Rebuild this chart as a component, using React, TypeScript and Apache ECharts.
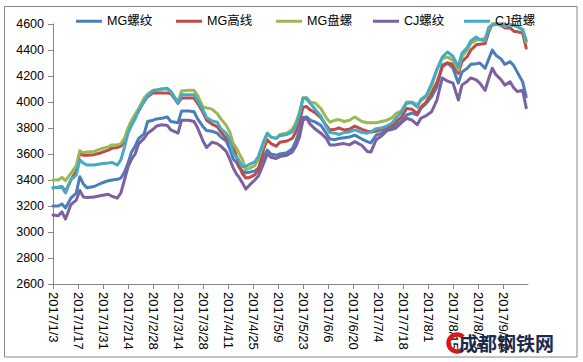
import React, { useEffect, useRef } from "react";
import * as echarts from "echarts";

const dates = [
  "2017/1/3","2017/1/6","2017/1/8","2017/1/10","2017/1/13","2017/1/16","2017/1/18","2017/1/20","2017/1/22","2017/1/26",
  "2017/1/30","2017/2/3","2017/2/5","2017/2/8","2017/2/10","2017/2/12","2017/2/14","2017/2/16","2017/2/18","2017/2/20",
  "2017/2/23","2017/2/25","2017/2/28","2017/3/2","2017/3/5","2017/3/8","2017/3/10","2017/3/14","2017/3/16","2017/3/20",
  "2017/3/23","2017/3/25","2017/3/28","2017/3/30","2017/4/2","2017/4/5","2017/4/7","2017/4/10","2017/4/12","2017/4/14",
  "2017/4/16","2017/4/17","2017/4/19","2017/4/21","2017/4/23","2017/4/26","2017/4/28","2017/5/1","2017/5/3","2017/5/5",
  "2017/5/8","2017/5/10","2017/5/14","2017/5/17","2017/5/19","2017/5/21","2017/5/23","2017/5/25","2017/5/27","2017/5/30",
  "2017/6/2","2017/6/5","2017/6/7","2017/6/10","2017/6/12","2017/6/15","2017/6/18","2017/6/21","2017/6/25","2017/6/28",
  "2017/6/30","2017/7/3","2017/7/6","2017/7/9","2017/7/12","2017/7/14","2017/7/17","2017/7/20","2017/7/23","2017/7/26",
  "2017/7/28","2017/7/31","2017/8/3","2017/8/6","2017/8/9","2017/8/12","2017/8/15","2017/8/18","2017/8/20","2017/8/23",
  "2017/8/25","2017/8/28","2017/8/30","2017/9/2","2017/9/4","2017/9/6","2017/9/8","2017/9/11","2017/9/13","2017/9/16",
  "2017/9/18","2017/9/20","2017/9/23","2017/9/25"
];

// MG螺纹
const mgRebar = [
  3200,3200,3215,3185,3260,3300,3425,3370,3340,3350,
  3375,3395,3400,3405,3415,3460,3530,3615,3660,3720,
  3755,3850,3860,3870,3875,3885,3850,3840,3930,3930,
  3925,3870,3810,3780,3775,3760,3730,3700,3640,3560,
  3530,3500,3470,3455,3460,3470,3490,3580,3630,3600,
  3590,3600,3610,3640,3700,3780,3880,3885,3860,3845,
  3820,3760,3715,3710,3720,3725,3730,3745,3715,3695,
  3685,3745,3760,3800,3810,3825,3850,3900,3915,3900,
  3950,3990,4040,4115,4285,4300,4260,4145,4230,4260,
  4290,4295,4300,4260,4330,4400,4360,4330,4290,4310,
  4280,4230,4155,4040
];
// MG高线
const mgWire = [
  3340,3345,3350,3310,3400,3470,3610,3590,3590,3595,
  3610,3630,3645,3650,3660,3700,3780,3850,3890,3930,
  4010,4040,4070,4070,4070,4070,4065,3990,4030,4030,
  4030,3990,3920,3860,3830,3810,3770,3720,3690,3650,
  3570,3515,3450,3415,3420,3440,3480,3640,3710,3680,
  3660,3690,3700,3720,3770,3850,3960,3965,3940,3915,
  3880,3820,3785,3790,3800,3785,3790,3815,3790,3775,
  3770,3775,3790,3810,3820,3850,3880,3950,3945,3910,
  3960,4000,4070,4150,4270,4300,4290,4220,4310,4350,
  4400,4440,4445,4450,4540,4600,4600,4590,4570,4570,
  4545,4540,4530,4415
];
// MG盘螺
const mgCoil = [
  3400,3400,3420,3395,3450,3510,3625,3610,3615,3620,
  3640,3655,3670,3670,3680,3720,3800,3860,3905,3950,
  4030,4060,4090,4095,4100,4100,4080,4000,4085,4090,
  4090,4050,3960,3955,3945,3910,3870,3820,3770,3680,
  3640,3610,3560,3480,3490,3510,3560,3680,3760,3730,
  3720,3750,3760,3790,3840,3920,4030,4035,4000,3990,
  3950,3880,3845,3860,3865,3850,3860,3885,3850,3840,
  3840,3840,3850,3860,3880,3910,3930,4000,4000,3980,
  4010,4040,4120,4250,4335,4345,4320,4245,4350,4400,
  4450,4475,4480,4490,4560,4600,4600,4600,4585,4595,
  4590,4580,4560,4460
];
// CJ螺纹
const cjRebar = [
  3130,3125,3155,3100,3210,3245,3320,3270,3265,3270,
  3280,3290,3275,3260,3300,3400,3500,3560,3600,3680,
  3720,3760,3790,3815,3825,3820,3785,3760,3860,3860,
  3850,3800,3700,3650,3690,3680,3660,3620,3560,3490,
  3440,3425,3380,3330,3360,3400,3430,3530,3600,3575,
  3565,3580,3590,3615,3660,3730,3860,3875,3830,3790,
  3760,3720,3670,3670,3675,3680,3670,3695,3665,3620,
  3615,3710,3740,3780,3790,3800,3840,3875,3860,3825,
  3875,3895,3925,4015,4185,4160,4145,4015,4130,4160,
  4185,4170,4145,4090,4180,4260,4210,4170,4130,4155,
  4110,4080,4090,3955
];
// CJ盘螺
const cjCoil = [
  3340,3345,3345,3300,3400,3440,3555,3530,3515,3515,
  3525,3530,3535,3515,3555,3650,3760,3820,3870,3940,
  4000,4050,4085,4090,4100,4105,4080,3990,4055,4055,
  4055,4010,3940,3880,3855,3845,3795,3760,3710,3600,
  3575,3555,3500,3505,3520,3540,3580,3700,3760,3730,
  3720,3740,3750,3770,3820,3900,4030,4025,3990,3940,
  3890,3810,3765,3760,3750,3765,3770,3785,3765,3760,
  3770,3795,3800,3815,3840,3875,3920,3990,3995,3960,
  4020,4050,4140,4250,4345,4385,4350,4270,4375,4420,
  4470,4500,4480,4470,4575,4590,4600,4600,4580,4595,
  4590,4580,4555,4475
];

const seriesNames = ["MG螺纹", "MG高线", "MG盘螺", "CJ螺纹", "CJ盘螺"];
const seriesValues = [mgRebar, mgWire, mgCoil, cjRebar, cjCoil];
const seriesColors = ["#4A7EBB", "#BE4B48", "#98B954", "#7D60A0", "#46AAC5"];
const legendLefts = [76, 176, 276, 373, 464];

const yMin = 2600;
const yMax = 4600;
const yStep = 200;
const xStepDays = 14;
const xMaxDays = 266;

const FONT = "'Liberation Sans', 'Noto Sans CJK SC', sans-serif";

function dayOffset(s: string): number {
  const [y, m, d] = s.split("/").map(Number);
  return Math.round((Date.UTC(y, m - 1, d) - Date.UTC(2017, 0, 3)) / 86400000);
}
function dayLabel(v: number): string {
  const dt = new Date(Date.UTC(2017, 0, 3 + Math.round(v)));
  return `${dt.getUTCFullYear()}/${dt.getUTCMonth() + 1}/${dt.getUTCDate()}`;
}

export default function App() {
  const ref = useRef<HTMLDivElement>(null);
  useEffect(() => {
    if (!ref.current) return;
    const chart = echarts.init(ref.current, undefined, { renderer: "svg" });
    const days = dates.map(dayOffset);
    chart.setOption({
      animation: false,
      backgroundColor: "#ffffff",
      grid: { left: 53, right: 55, top: 24, bottom: 78, containLabel: false },
      legend: seriesNames.map((n, i) => ({
        data: [n],
        left: legendLefts[i],
        top: 15,
        padding: 0,
        icon: "rect",
        itemWidth: 26,
        itemHeight: 3,
        itemGap: 0,
        textStyle: { fontSize: 12.5, color: "#000", fontFamily: FONT },
      })),
      xAxis: {
        type: "value",
        min: 0,
        max: xMaxDays,
        interval: xStepDays,
        splitLine: { show: false },
        axisLine: { show: true, lineStyle: { color: "#868686", width: 1 } },
        axisTick: { show: true, length: 5, lineStyle: { color: "#868686" } },
        axisLabel: {
          rotate: -90,
          margin: 8,
          fontSize: 13,
          color: "#000",
          fontFamily: FONT,
          showMaxLabel: false,
          formatter: (v: number) => dayLabel(v),
        },
      },
      yAxis: {
        type: "value",
        min: yMin,
        max: yMax,
        interval: yStep,
        splitLine: { show: false },
        axisLine: { show: true, lineStyle: { color: "#868686", width: 1 } },
        axisTick: { show: true, length: 5, lineStyle: { color: "#868686" } },
        axisLabel: {
          margin: 9,
          fontSize: 12.5,
          color: "#000",
          fontFamily: FONT,
          formatter: (v: number) => String(v),
        },
      },
      series: seriesNames.map((n, i) => ({
        name: n,
        type: "line",
        symbol: "none",
        clip: false,
        color: seriesColors[i],
        lineStyle: { width: 3, color: seriesColors[i], join: "round", cap: "round" },
        data: days.map((d, j) => [d, seriesValues[i][j]]),
      })),
      graphic: [
        {
          type: "rect",
          shape: { x: 4.5, y: 6.5, width: 572.5, height: 350.5 },
          style: { fill: "none", stroke: "#868686", lineWidth: 1 },
          silent: true,
        },
        {
          type: "arc",
          shape: { cx: 457, cy: 343, r: 8.5, startAngle: Math.PI / 4, endAngle: (7 * Math.PI) / 4, clockwise: true },
          style: { stroke: "#D7191C", lineWidth: 4.5, fill: "none" },
          z: 10,
          silent: true,
        },
        {
          type: "text",
          x: 459,
          y: 342,
          style: {
            text: "成都钢铁网",
            fontSize: 19,
            fontWeight: "bold",
            fontFamily: "'Noto Sans CJK SC', sans-serif",
            fill: "#1B2A4E",
            verticalAlign: "middle",
            align: "left",
          },
          z: 11,
          silent: true,
        },
      ],
    });
    return () => chart.dispose();
  }, []);
  return (
    <div
      ref={ref}
      style={{ position: "fixed", left: 0, top: 0, width: 583, height: 362, background: "#fff" }}
    />
  );
}
